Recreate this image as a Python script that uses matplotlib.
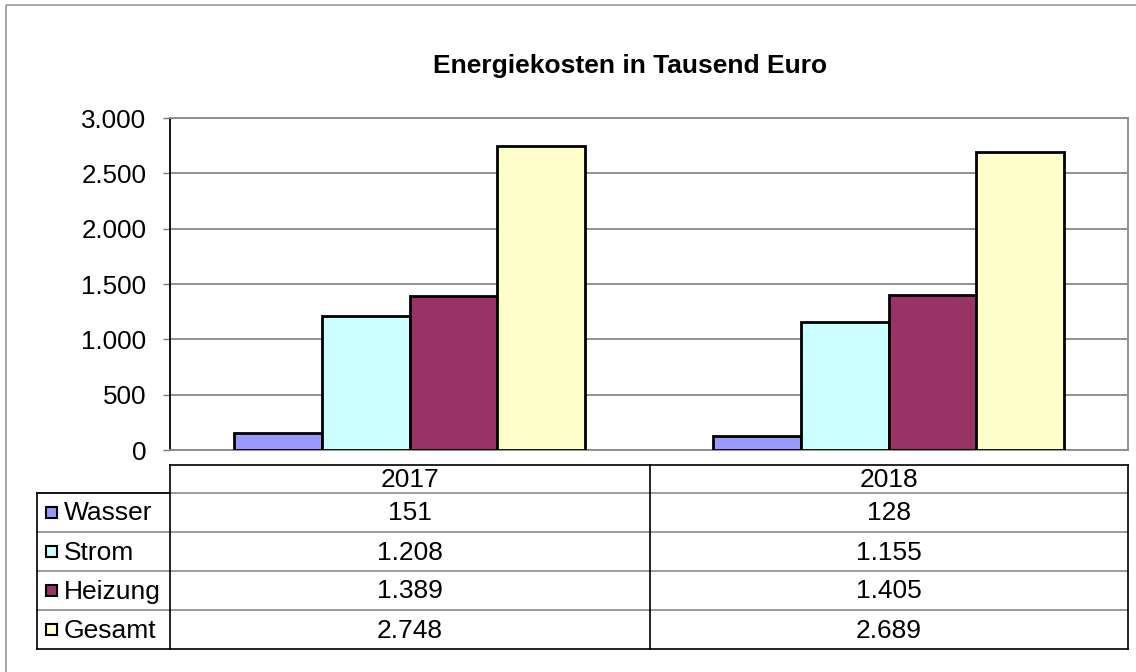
import matplotlib
matplotlib.use("Agg")
import matplotlib.pyplot as plt
from matplotlib.patches import Rectangle
from matplotlib.ticker import MultipleLocator, FuncFormatter

plt.rcParams['font.family'] = ['Liberation Sans', 'DejaVu Sans']

# Data
years = ["2017", "2018"]
series = ["Wasser", "Strom", "Heizung", "Gesamt"]
wasser = [151, 128]
strom = [1208, 1155]
heizung = [1389, 1405]
gesamt = [2748, 2689]
values = [wasser, strom, heizung, gesamt]
colors = ["#9999FF", "#CCFFFF", "#993366", "#FFFFCC"]


def de_fmt(v, pos=None):
    return "{:,.0f}".format(v).replace(",", ".")


W, H = 1136, 672
fig = plt.figure(figsize=(W / 100, H / 100), dpi=100)

# overlay axes in pixel coordinates for frame + table
ov = fig.add_axes([0, 0, 1, 1])
ov.set_xlim(0, W)
ov.set_ylim(H, 0)
ov.axis("off")
ov.add_patch(Rectangle((6, 5), 1140, 680, fill=False, edgecolor="#9a9a9a", lw=1.2))

# bar chart area
x0, x1, y0, y1 = 170, 1128, 118, 450
ax = fig.add_axes([x0 / W, 1 - y1 / H, (x1 - x0) / W, (y1 - y0) / H])
ax.set_zorder(2)
ax.patch.set_alpha(0)

bw = 0.183
for i, (name, vals, col) in enumerate(zip(series, values, colors)):
    xs = [k + (i - 1.5) * bw for k in range(len(years))]
    ax.bar(xs, vals, width=bw, color=col, edgecolor="black", linewidth=2.0, zorder=3)

ax.set_xlim(-0.5, len(years) - 0.5)
ax.set_ylim(0, 3000)
ax.yaxis.set_major_locator(MultipleLocator(500))
ax.yaxis.set_major_formatter(FuncFormatter(de_fmt))
ax.set_xticks([])
ax.grid(axis="y", color="#7f7f7f", linewidth=1.2, zorder=0)
ax.tick_params(axis="y", labelsize=18.7, length=5, width=1, color="#7f7f7f", pad=12)
for s in ["top", "right", "bottom"]:
    ax.spines[s].set_color("#8a8a8a")
    ax.spines[s].set_linewidth(1.3)
ax.spines["left"].set_color("black")
ax.spines["left"].set_linewidth(1.3)

fig.text(630 / W, 1 - 66 / H, "Energiekosten in Tausend Euro", ha="center", va="center",
         fontsize=19, fontweight="bold")

# data table
tl, tr = 37, 1128
col_x = [170, 650, 1128]
row_y = [465, 493, 532, 571, 610, 649]
grid_c = "#8a8a8a"
ov.plot([col_x[0], tr], [row_y[0], row_y[0]], color="black", lw=1.2)
for y in row_y[1:-1]:
    ov.plot([tl, tr], [y, y], color=grid_c, lw=1.2)
ov.plot([tl, tl], [row_y[1], row_y[-1]], color="black", lw=1.2)
ov.plot([tl, tr], [row_y[-1], row_y[-1]], color="black", lw=1.2)
ov.plot([tl, col_x[0]], [row_y[1], row_y[1]], color="black", lw=1.2)
for x in col_x:
    ov.plot([x, x], [row_y[0], row_y[-1]], color="black", lw=1.2)

for j, yr in enumerate(years):
    cx = (col_x[j] + col_x[j + 1]) / 2
    ov.text(cx, (row_y[0] + row_y[1]) / 2 + 1, yr, ha="center", va="center", fontsize=19)

for i, (name, vals, col) in enumerate(zip(series, values, colors)):
    cy = (row_y[i + 1] + row_y[i + 2]) / 2
    ov.add_patch(Rectangle((46, cy - 5.5), 11, 11, facecolor=col, edgecolor="black", lw=1.5))
    ov.text(64, cy + 1, name, ha="left", va="center", fontsize=19)
    for j, v in enumerate(vals):
        cx = (col_x[j] + col_x[j + 1]) / 2
        ov.text(cx, cy + 1, de_fmt(v), ha="center", va="center", fontsize=19)

fig.savefig("out.png", dpi=100)
